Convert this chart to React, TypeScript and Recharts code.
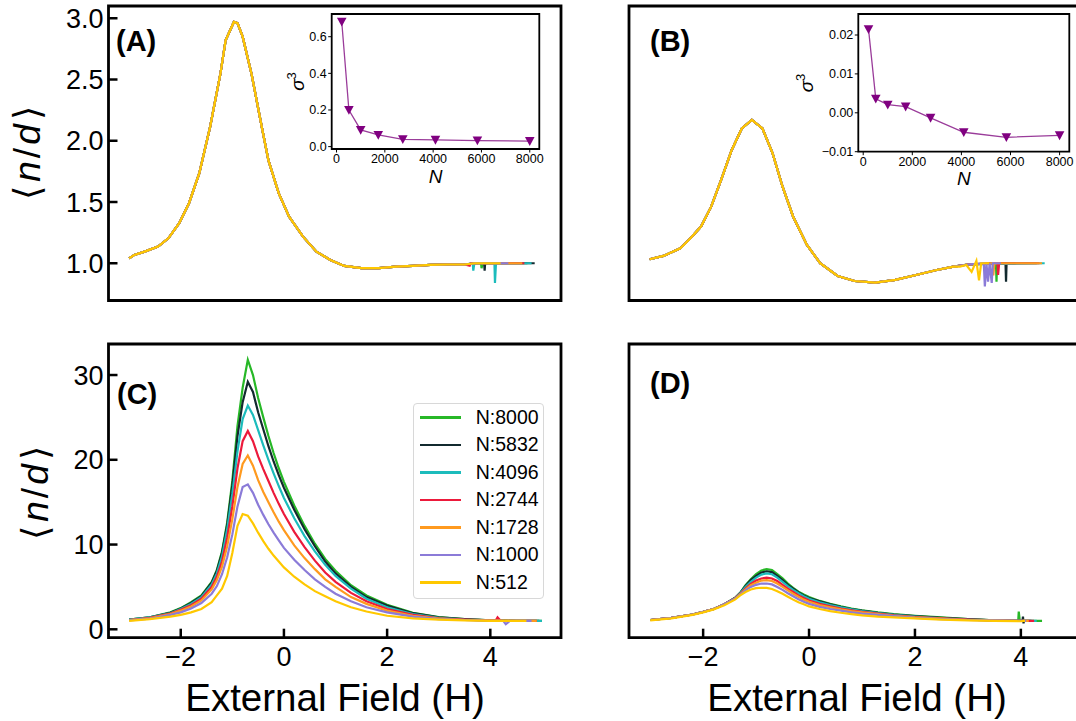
import React from 'react';
import { LineChart, Line, XAxis, YAxis, ReferenceArea, Legend } from 'recharts';

const FONT = '"Liberation Sans", Arial, Helvetica, sans-serif';

// series names and colours, drawn in this order (N:512 ends up on top)
const sizeNames = ['N:8000', 'N:5832', 'N:4096', 'N:2744', 'N:1728', 'N:1000', 'N:512'];
const sizeColors = ['#27b827', '#132a2f', '#1cbcbc', '#ec1a3b', '#ff9a1f', '#8b7bd8', '#ffc800'];

const fieldTicks = [-2, 0, 2, 4];
const abTicks = [1.0, 1.5, 2.0, 2.5, 3.0];
const cdTicks = [0, 10, 20, 30];

// (A) all sizes collapse on one curve, only the tails differ
const aBodyX = [-3.0, -2.9, -2.7, -2.44, -2.24, -2.03, -1.84, -1.64, -1.43, -1.23, -1.13, -0.97, -0.9, -0.8, -0.63, -0.43, -0.3, -0.1, 0.1, 0.37, 0.63, 0.9, 1.17, 1.5, 1.84, 2.17, 2.5, 2.84, 3.17, 3.5];
const aBodyY = [1.04, 1.068, 1.095, 1.136, 1.204, 1.327, 1.49, 1.735, 2.115, 2.55, 2.82, 2.97, 2.96, 2.85, 2.55, 2.115, 1.84, 1.57, 1.38, 1.217, 1.095, 1.027, 0.978, 0.96, 0.96, 0.973, 0.978, 0.986, 0.99, 0.99];
const aTailX = [
  [3.7, 3.82, 3.83, 3.85, 4.72],
  [3.7, 3.88, 3.89, 3.9, 4.86],
  [3.66, 3.67, 3.69, 4.08, 4.09, 4.11, 4.8],
  [3.6, 3.62, 4.66],
  [3.7, 4.62],
  [3.7, 4.35],
  [3.7, 4.2],
];
const aTailY = [
  [1.0, 1.0, 0.96, 1.0, 1.0],
  [1.0, 1.0, 0.94, 1.0, 1.0],
  [1.0, 0.94, 1.0, 1.0, 0.84, 1.0, 1.0],
  [0.98, 1.0, 1.0],
  [1.0, 1.0],
  [1.0, 1.0],
  [1.0, 1.0],
];

// (B)
const bBodyX = [-3.01, -2.75, -2.43, -2.24, -2.04, -1.85, -1.66, -1.46, -1.27, -1.08, -0.88, -0.69, -0.5, -0.3, -0.04, 0.21, 0.54, 0.86, 1.25, 1.63, 2.02, 2.41, 2.73];
const bBodyY = [1.033, 1.06, 1.122, 1.204, 1.3, 1.46, 1.68, 1.925, 2.1, 2.17, 2.1, 1.9, 1.625, 1.38, 1.15, 1.0, 0.896, 0.855, 0.842, 0.864, 0.904, 0.945, 0.973];
const bTailX = [
  [3.0, 3.53, 3.54, 3.55, 4.3],
  [3.0, 3.71, 3.72, 3.73, 3.9],
  [3.0, 4.45],
  [3.0, 3.56, 3.57, 3.59, 4.35],
  [3.0, 3.47, 3.48, 3.5, 4.4],
  [3.0, 3.3, 3.32, 3.35, 3.38, 3.41, 3.45, 3.47, 3.62],
  [2.85, 2.97, 3.07, 3.16, 3.21, 3.25, 3.4],
];
const bTailY = [
  [0.99, 1.0, 0.85, 1.0, 1.0],
  [0.99, 1.0, 0.85, 1.0, 1.0],
  [0.99, 1.0],
  [0.99, 1.0, 0.905, 1.0, 1.0],
  [0.99, 1.0, 0.9, 1.0, 1.0],
  [0.99, 1.0, 0.81, 1.0, 0.85, 1.0, 0.84, 1.0, 1.0],
  [0.973, 0.986, 0.93, 1.02, 0.86, 1.0, 1.0],
];

// (C) and (D) share one field grid
const fieldGrid = [-3.0, -2.6, -2.2, -2.0, -1.8, -1.6, -1.4, -1.3, -1.2, -1.1, -1.0, -0.9, -0.8, -0.7, -0.6, -0.5, -0.4, -0.3, -0.2, -0.1, 0.0, 0.2, 0.4, 0.6, 0.8, 1.0, 1.3, 1.6, 2.0, 2.5, 3.0, 3.5, 4.0];

const c8000 = [1.15, 1.4, 2.0, 2.5, 3.2, 4.0, 5.6, 7.0, 9.2, 12.6, 17.5, 24.0, 28.5, 31.8, 30.0, 27.3, 25.0, 22.8, 20.8, 19.0, 17.4, 14.6, 12.2, 10.1, 8.3, 6.9, 5.2, 4.0, 2.9, 1.95, 1.45, 1.2, 1.05];
const c5832 = [1.15, 1.4, 1.95, 2.45, 3.1, 3.9, 5.5, 6.9, 9.0, 12.3, 17.0, 22.8, 26.8, 29.2, 28.0, 25.6, 23.6, 21.6, 19.8, 18.2, 16.7, 14.1, 11.8, 9.8, 8.0, 6.6, 5.0, 3.8, 2.8, 1.9, 1.4, 1.2, 1.05];
const c4096 = [1.15, 1.4, 1.9, 2.4, 3.0, 3.8, 5.3, 6.6, 8.6, 11.8, 16.0, 21.0, 24.8, 26.4, 25.3, 23.5, 21.7, 20.0, 18.4, 16.9, 15.5, 13.1, 11.0, 9.2, 7.6, 6.3, 4.8, 3.6, 2.6, 1.8, 1.35, 1.15, 1.05];
const c2744 = [1.1, 1.35, 1.85, 2.3, 2.85, 3.6, 5.0, 6.2, 8.0, 10.8, 14.5, 19.0, 22.2, 23.4, 22.2, 20.4, 18.9, 17.5, 16.1, 14.8, 13.6, 11.5, 9.7, 8.1, 6.7, 5.6, 4.3, 3.3, 2.4, 1.7, 1.3, 1.15, 1.05];
const c1728 = [1.1, 1.3, 1.8, 2.2, 2.7, 3.4, 4.7, 5.8, 7.4, 9.8, 13.0, 16.8, 19.5, 20.5, 19.3, 17.6, 16.2, 15.0, 13.8, 12.7, 11.7, 9.9, 8.4, 7.1, 5.9, 5.0, 3.8, 3.0, 2.2, 1.6, 1.25, 1.1, 1.05];
const c1000 = [1.05, 1.25, 1.7, 2.0, 2.45, 3.1, 4.2, 5.1, 6.5, 8.5, 11.2, 14.5, 16.8, 17.1, 16.1, 14.7, 13.5, 12.4, 11.4, 10.5, 9.6, 8.2, 7.0, 5.9, 5.0, 4.2, 3.3, 2.6, 2.0, 1.5, 1.2, 1.1, 1.0];
const c512 = [1.0, 1.2, 1.5, 1.7, 2.0, 2.4, 3.2, 4.0, 4.8, 6.3, 9.0, 12.2, 13.6, 13.4, 12.5, 11.4, 10.4, 9.5, 8.7, 8.0, 7.3, 6.2, 5.3, 4.5, 3.9, 3.3, 2.6, 2.1, 1.6, 1.3, 1.15, 1.05, 1.0];
const cTailX = [[4.5, 5.0], [4.5, 4.95], [4.5, 5.0], [4.1, 4.14, 4.2, 4.9], [4.5, 4.9], [4.25, 4.3, 4.38, 4.8], [4.5, 4.7]];
const cTailY = [[1.0, 1.0], [1.0, 1.0], [1.0, 1.0], [1.0, 1.4, 1.0, 1.0], [1.0, 1.0], [1.0, 0.6, 1.0, 1.0], [1.0, 1.0]];

const d8000 = [1.1, 1.35, 1.75, 2.05, 2.4, 2.95, 3.7, 4.3, 5.2, 5.9, 6.5, 6.95, 7.1, 7.0, 6.5, 6.0, 5.4, 4.9, 4.45, 4.1, 3.8, 3.35, 3.0, 2.7, 2.45, 2.25, 2.0, 1.8, 1.6, 1.4, 1.2, 1.05, 1.0];
const d5832 = [1.1, 1.35, 1.75, 2.05, 2.4, 2.95, 3.7, 4.3, 5.1, 5.8, 6.3, 6.7, 6.85, 6.75, 6.3, 5.8, 5.25, 4.8, 4.35, 4.0, 3.7, 3.3, 2.95, 2.65, 2.4, 2.2, 1.95, 1.75, 1.55, 1.35, 1.2, 1.05, 1.0];
const d4096 = [1.1, 1.35, 1.75, 2.05, 2.4, 2.95, 3.65, 4.25, 5.0, 5.6, 6.1, 6.45, 6.6, 6.5, 6.1, 5.6, 5.1, 4.65, 4.25, 3.9, 3.6, 3.2, 2.85, 2.6, 2.35, 2.15, 1.9, 1.7, 1.5, 1.3, 1.15, 1.05, 1.0];
const d2744 = [1.1, 1.35, 1.75, 2.05, 2.4, 2.95, 3.65, 4.2, 4.8, 5.35, 5.75, 6.0, 6.1, 6.0, 5.7, 5.25, 4.8, 4.4, 4.0, 3.7, 3.4, 3.0, 2.7, 2.45, 2.25, 2.05, 1.85, 1.65, 1.45, 1.3, 1.15, 1.05, 1.0];
const d1728 = [1.1, 1.35, 1.75, 2.05, 2.4, 2.95, 3.6, 4.15, 4.7, 5.2, 5.5, 5.75, 5.8, 5.7, 5.4, 5.0, 4.6, 4.2, 3.85, 3.5, 3.25, 2.85, 2.6, 2.35, 2.15, 2.0, 1.8, 1.6, 1.4, 1.25, 1.1, 1.05, 1.0];
const d1000 = [1.1, 1.35, 1.75, 2.05, 2.4, 2.95, 3.6, 4.1, 4.6, 5.0, 5.25, 5.4, 5.4, 5.3, 5.0, 4.65, 4.25, 3.9, 3.55, 3.25, 3.0, 2.65, 2.4, 2.2, 2.0, 1.85, 1.7, 1.55, 1.35, 1.2, 1.1, 1.05, 1.0];
const d512 = [1.05, 1.3, 1.7, 2.0, 2.35, 2.85, 3.5, 4.0, 4.4, 4.7, 4.85, 4.9, 4.88, 4.75, 4.5, 4.2, 3.85, 3.5, 3.2, 2.95, 2.7, 2.4, 2.15, 1.95, 1.8, 1.65, 1.5, 1.4, 1.3, 1.15, 1.05, 1.0, 0.95];
const dTailX = [[3.95, 3.96, 3.98, 4.4], [4.03, 4.04, 4.05, 4.06, 4.2], [4.1, 4.3], [4.1, 4.25], [4.05, 4.15], [4.05, 4.1], [4.05, 4.08]];
const dTailY = [[1.0, 2.1, 1.0, 1.0], [1.0, 1.5, 0.7, 1.0, 1.0], [1.0, 1.0], [1.0, 1.0], [1.0, 1.0], [1.0, 1.0], [1.0, 1.0]];

// insets: sigma^3 against system size
const nValues = [216, 512, 1000, 1728, 2744, 4096, 5832, 8000];
const sigmaA = [0.682, 0.2, 0.091, 0.064, 0.04, 0.037, 0.033, 0.03];
const sigmaB = [0.0215, 0.0036, 0.0021, 0.0016, -0.0013, -0.005, -0.0063, -0.0058];

const pts = (xs: number[], ys: number[]) => xs.map((x, i) => ({ x, y: ys[i] }));

const seriesA = sizeNames.map((name, k) => ({ name, color: sizeColors[k], data: [...pts(aBodyX, aBodyY), ...pts(aTailX[k], aTailY[k])] }));
const seriesB = sizeNames.map((name, k) => ({ name, color: sizeColors[k], data: [...pts(bBodyX, bBodyY), ...pts(bTailX[k], bTailY[k])] }));
const cY = [c8000, c5832, c4096, c2744, c1728, c1000, c512];
const dY = [d8000, d5832, d4096, d2744, d1728, d1000, d512];
const seriesC = sizeNames.map((name, k) => ({ name, color: sizeColors[k], data: [...pts(fieldGrid, cY[k]), ...pts(cTailX[k], cTailY[k])] }));
const seriesD = sizeNames.map((name, k) => ({ name, color: sizeColors[k], data: [...pts(fieldGrid, dY[k]), ...pts(dTailX[k], dTailY[k])] }));

const minus = (s: string) => s.replace('-', '\u2212');

const NdLabel = ({ bx, by }: any) => (
  <text x={bx} y={by} transform={`rotate(-90 ${bx} ${by})`} textAnchor="middle" fontSize={37} fontFamily={FONT} fill="#000">
    <tspan>⟨</tspan><tspan dx={4} fontStyle="italic">n</tspan><tspan dx={3}>/</tspan><tspan dx={3} fontStyle="italic">d</tspan><tspan dx={4}>⟩</tspan>
  </text>
);

const FieldLabel = ({ bx, by }: any) => (
  <text x={bx} y={by} textAnchor="middle" fontSize={38.5} fontFamily={FONT} fill="#000">External Field (H)</text>
);

const Tag = ({ bx, by, text }: any) => (
  <text x={bx} y={by} fontSize={29} fontWeight="bold" fontFamily={FONT} fill="#000">{text}</text>
);

const SigmaLabel = ({ bx, by }: any) => (
  <text x={bx} y={by} transform={`rotate(-90 ${bx} ${by})`} textAnchor="middle" fontSize={19} fontFamily={FONT} fill="#000">
    <tspan fontStyle="italic">σ</tspan><tspan fontSize={13} dy={-8}>3</tspan>
  </text>
);

const NLabel = ({ bx, by }: any) => (
  <text x={bx} y={by} textAnchor="middle" fontSize={19} fontStyle="italic" fontFamily={FONT} fill="#000">N</text>
);

const TriDown = (p: any) => {
  const { cx, cy } = p;
  if (cx == null || cy == null) return null;
  return <path d={`M${cx - 4.8},${cy - 4} L${cx + 4.8},${cy - 4} L${cx},${cy + 4.8} Z`} fill="#800080" />;
};

const LegendBox = () => (
  <div style={{ width: 131, height: 196, boxSizing: 'border-box', border: '1px solid #d8d8d8', borderRadius: 4, background: 'rgba(255,255,255,0.85)' }}>
    {sizeNames.map((n, i) => (
      <div key={n} style={{ display: 'flex', alignItems: 'center', height: 27.5 }}>
        <div style={{ width: 41, height: 2.2, background: sizeColors[i], marginLeft: 6 }} />
        <span style={{ marginLeft: 15, fontSize: 19.5, fontFamily: FONT, color: '#000', lineHeight: 1 }}>{n}</span>
      </div>
    ))}
  </div>
);

const tickLine = { stroke: '#000', strokeWidth: 2.5 };
const tickText = { fontSize: 27, fill: '#000', fontFamily: FONT };

function MainPanel(p: any) {
  return (
    <div style={{ position: 'absolute', left: p.left, top: p.top }}>
      <LineChart width={p.w} height={p.h} margin={{ top: p.mTop, right: p.mRight, left: 0, bottom: 0 }}>
        <XAxis type="number" dataKey="x" domain={p.xDomain} allowDataOverflow ticks={fieldTicks} interval={0}
          height={p.xH} axisLine={false} tickSize={-9} tickMargin={18} tickLine={tickLine}
          tick={p.xLabels ? tickText : false} tickFormatter={(v: number) => minus(String(v))}
          label={p.xLab} />
        <YAxis type="number" domain={p.yDomain} allowDataOverflow ticks={p.yTicks} interval={0}
          width={p.yW} axisLine={false} tickSize={-9} tickMargin={14} tickLine={tickLine}
          tick={p.yFmt ? tickText : false} tickFormatter={p.yFmt} label={p.yLab} />
        <ReferenceArea x1={p.xDomain[0]} x2={p.xDomain[1]} y1={p.yDomain[0]} y2={p.yDomain[1]}
          fill="none" stroke="#000" strokeWidth={2.8} ifOverflow="visible" label={p.tag} />
        {p.series.map((s: any) => (
          <Line key={s.name} data={s.data} dataKey="y" name={s.name} type="linear" stroke={s.color}
            strokeWidth={2.2} dot={false} activeDot={false} isAnimationActive={false} />
        ))}
        {p.legend}
      </LineChart>
    </div>
  );
}

function Inset(p: any) {
  return (
    <div style={{ position: 'absolute', left: p.left, top: p.top }}>
      <LineChart width={p.w} height={p.h} margin={{ top: 6, right: p.mRight, left: 0, bottom: 0 }}>
        <XAxis type="number" dataKey="x" domain={[-200, 8395]} allowDataOverflow ticks={[0, 2000, 4000, 6000, 8000]}
          interval={0} height={p.xH} axisLine={false} tickSize={3.5} tickMargin={1.5}
          tickLine={{ stroke: '#000', strokeWidth: 1 }} tick={{ fontSize: 12.5, fill: '#000', fontFamily: FONT }}
          label={p.nLab} />
        <YAxis type="number" domain={p.yDomain} allowDataOverflow ticks={p.yTicks} interval={0}
          width={p.yW} axisLine={false} tickSize={3.5} tickMargin={1.5}
          tickLine={{ stroke: '#000', strokeWidth: 1 }} tick={{ fontSize: 12.5, fill: '#000', fontFamily: FONT }}
          tickFormatter={p.yFmt} label={p.sLab} />
        <ReferenceArea x1={-200} x2={8395} y1={p.yDomain[0]} y2={p.yDomain[1]}
          fill="#fff" fillOpacity={1} stroke="#000" strokeWidth={1.8} ifOverflow="visible" />
        <Line data={pts(nValues, p.values)} dataKey="y" type="linear" stroke="#9a3c9a" strokeWidth={1.3}
          dot={<TriDown />} activeDot={false} isAnimationActive={false} />
      </LineChart>
    </div>
  );
}

export default function App() {
  return (
    <div style={{ position: 'absolute', left: 0, top: 0, width: 1076, height: 721, overflow: 'hidden', background: '#fff' }}>
      <MainPanel left={0} top={0} w={570} h={320} mTop={6} mRight={9} yW={108.5} xH={19.5}
        xDomain={[-3.4, 5.37]} yDomain={[0.696, 3.1]} yTicks={abTicks} yFmt={(v: number) => v.toFixed(1)}
        xLabels={false} series={seriesA} tag={<Tag bx={116} by={51} text="(A)" />}
        yLab={<NdLabel bx={40} by={153} />} />
      <MainPanel left={560} top={0} w={540} h={320} mTop={6} mRight={5} yW={69} xH={19.5}
        xDomain={[-3.4, 5.4]} yDomain={[0.696, 3.1]} yTicks={abTicks}
        xLabels={false} series={seriesB} tag={<Tag bx={90} by={51} text="(B)" />} />
      <MainPanel left={0} top={320} w={570} h={401} mTop={24} mRight={9} yW={108.5} xH={83.3}
        xDomain={[-3.4, 5.37]} yDomain={[-0.99, 33.66]} yTicks={cdTicks} yFmt={(v: number) => String(v)}
        xLabels series={seriesC} tag={<Tag bx={117} by={84} text="(C)" />}
        yLab={<NdLabel bx={48} by={173} />} xLab={<FieldLabel bx={335} by={391} />}
        legend={<Legend layout="vertical" align="center" verticalAlign="middle" content={<LegendBox />}
          wrapperStyle={{ left: 412.7, top: 82.7, width: 131, height: 196 }} />} />
      <MainPanel left={560} top={320} w={540} h={401} mTop={24} mRight={5} yW={69} xH={83.3}
        xDomain={[-3.4, 5.4]} yDomain={[-0.99, 33.66]} yTicks={cdTicks}
        xLabels series={seriesD} tag={<Tag bx={90} by={72.5} text="(D)" />}
        xLab={<FieldLabel bx={297} by={391} />} />
      <Inset left={285} top={8} w={260} h={185} mRight={5.7} yW={46.7} xH={44}
        yDomain={[-0.013, 0.724]} yTicks={[0, 0.2, 0.4, 0.6]} yFmt={(v: number) => v.toFixed(1)}
        values={sigmaA} sLab={<SigmaLabel bx={18.5} by={73.5} />} nLab={<NLabel bx={150.5} by={175.3} />} />
      <Inset left={770} top={8} w={305} h={185} mRight={5.7} yW={88.3} xH={41.3}
        yDomain={[-0.01, 0.0254]} yTicks={[-0.01, 0, 0.01, 0.02]} yFmt={(v: number) => minus(v.toFixed(2))}
        values={sigmaB} sLab={<SigmaLabel bx={43} by={75} />} nLab={<NLabel bx={193.8} by={177} />} />
    </div>
  );
}
